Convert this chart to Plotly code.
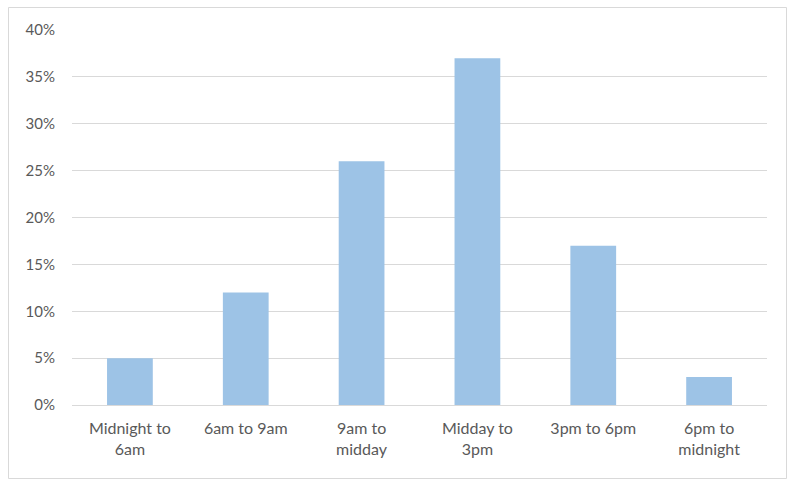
import plotly.graph_objects as go

categories = ["Midnight to<br>6am", "6am to 9am", "9am to<br>midday", "Midday to<br>3pm", "3pm to 6pm", "6pm to<br>midnight"]
values = [5, 12, 26, 37, 17, 3]
y_ticks = [0, 5, 10, 15, 20, 25, 30, 35, 40]
y_tick_labels = [f"{v}%" for v in y_ticks]

W, H = 788, 482
L, R, T, B = 72, 21, 30, 77
pw, ph = W - L - R, H - T - B

def px_x(x):
    return (x - L) / pw

def px_y(y):
    return (H - B - y) / ph

fig = go.Figure(go.Bar(
    x=categories, y=values,
    marker=dict(color="#9DC3E6", line=dict(width=0)),
))

fig.update_layout(
    width=W, height=H,
    margin=dict(l=L, r=R, t=T, b=B),
    plot_bgcolor="white", paper_bgcolor="white",
    bargap=0.605,
    showlegend=False,
    font=dict(family="Lato, Carlito, sans-serif", size=16, color="#595959"),
    shapes=[dict(type="rect", xref="paper", yref="paper",
                 x0=px_x(8.5), x1=px_x(786.5), y0=px_y(478.5), y1=px_y(7.5),
                 line=dict(color="#d9d9d9", width=1), fillcolor="rgba(0,0,0,0)", layer="below")],
)
fig.update_xaxes(showgrid=False, showline=False, ticks="", tickfont=dict(size=16, color="#595959"),
                 ticklabelstandoff=12)
fig.update_yaxes(range=[0, 40], tickmode="array", tickvals=y_ticks, ticktext=y_tick_labels,
                 showgrid=True, gridcolor="#d9d9d9", gridwidth=1, zeroline=True,
                 zerolinecolor="#d9d9d9", zerolinewidth=1, showline=False,
                 tickfont=dict(size=15, color="#595959"), ticklabelstandoff=16)

fig.write_html("out.html")
